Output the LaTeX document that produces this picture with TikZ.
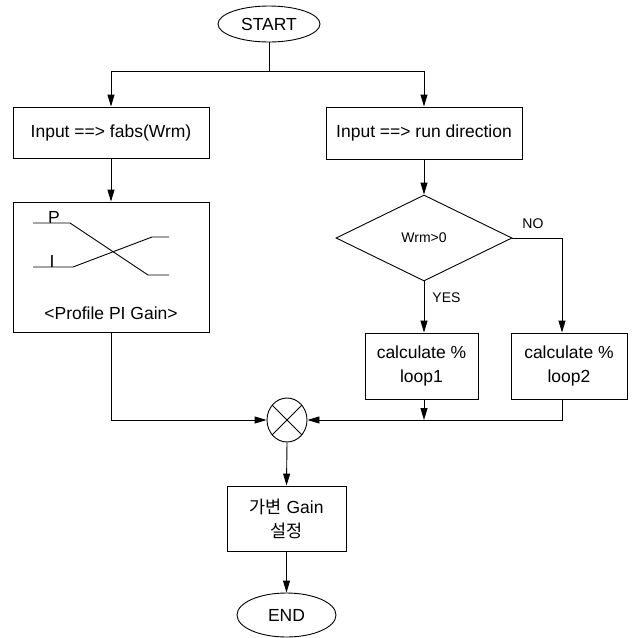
\documentclass[tikz,border=0pt]{standalone}
\usepackage{fontspec}
\setmainfont{Liberation Sans}
\newfontfamily\kr{Noto Sans CJK KR}
\usetikzlibrary{arrows.meta,shapes.geometric,calc}
\begin{document}
\begin{tikzpicture}[x=1pt,y=-1pt,
  line width=0.9pt,
  arr/.style={-{Triangle[length=12pt,width=7pt]}},
  txt/.style={font=\fontsize{17.5}{24}\selectfont},
  boxnode/.style={draw,rectangle,inner sep=0pt,align=center,txt},
  term/.style={draw,ellipse,inner sep=0pt,txt},
  small/.style={font=\fontsize{14}{16}\selectfont}]
\useasboundingbox (0,0) rectangle (635,638);
% nodes
\node[term,minimum width=102pt,minimum height=36pt] (start) at (269,24) {START};
\node[boxnode,minimum width=196pt,minimum height=51pt] (b1) at (111,132.5) {Input ==> fabs(Wrm)};
\node[boxnode,minimum width=196pt,minimum height=52pt] (b2) at (424,133) {Input ==> run direction};
\node[boxnode,minimum width=196pt,minimum height=130pt] (prof) at (111,267) {};
\node[txt] (proflabel) at (111,313) {<Profile PI Gain>};
\node[draw,diamond,aspect=2.05,minimum width=176pt,minimum height=86pt,inner sep=0pt,small] (dia) at (424,238) {Wrm>0};
\node[boxnode,minimum width=113pt,minimum height=66pt] (loop1) at (421.5,366) {calculate \%\\loop1};
\node[boxnode,minimum width=116pt,minimum height=66pt] (loop2) at (569,366) {calculate \%\\loop2};
\node[draw,ellipse,minimum width=40pt,minimum height=44pt,inner sep=0pt] (m) at (287,420) {};
\node[boxnode,minimum width=119pt,minimum height=65pt] (gain) at (286.5,518.5) {{\kr 가변} Gain\\{\kr 설정}};
\node[term,minimum width=99pt,minimum height=44pt] (end) at (286.5,615) {END};
% labels
\node[small,anchor=west,inner sep=0pt] (yes) at (432,298) {YES};
\node[small,anchor=west,inner sep=0pt] (no) at (522,224) {NO};
% profile graph
\draw (33,223) -- (70,223) -- (148,275) -- (169,275);
\draw (33,267) -- (73,267) -- (152,237) -- (169,237);
\node[txt,anchor=base,inner sep=0pt] (plab) at (54,223) {P};
\node[txt,anchor=base,inner sep=0pt] (ilab) at (52,267) {I};
% otimes cross
\draw (m.45) -- (m.225);
\draw (m.135) -- (m.315);
% connectors
\coordinate (sp) at (269,71);
\coordinate (nox) at (562,0);
\draw (start.south) -- (sp);
\draw[arr] (sp) -| (b1.north);
\draw[arr] (sp) -| (b2.north);
\draw[arr] (b1.south) -- (prof.north);
\draw[arr] (b2.south) -- (dia.north);
\draw[arr] (dia.south) -- (dia.south |- loop1.north);
\draw[arr] (dia.east) -| (loop2.north -| nox);
\draw[arr] (loop1.south -| dia.south) -- (m.east -| dia.south);
\draw[arr] (loop2.south -| nox) |- (m.east);
\draw[arr] (prof.south) |- (m.west);
\draw[arr] (m.south) -- (gain.north);
\draw[arr] (gain.south) -- (end.north);
\end{tikzpicture}
\end{document}
